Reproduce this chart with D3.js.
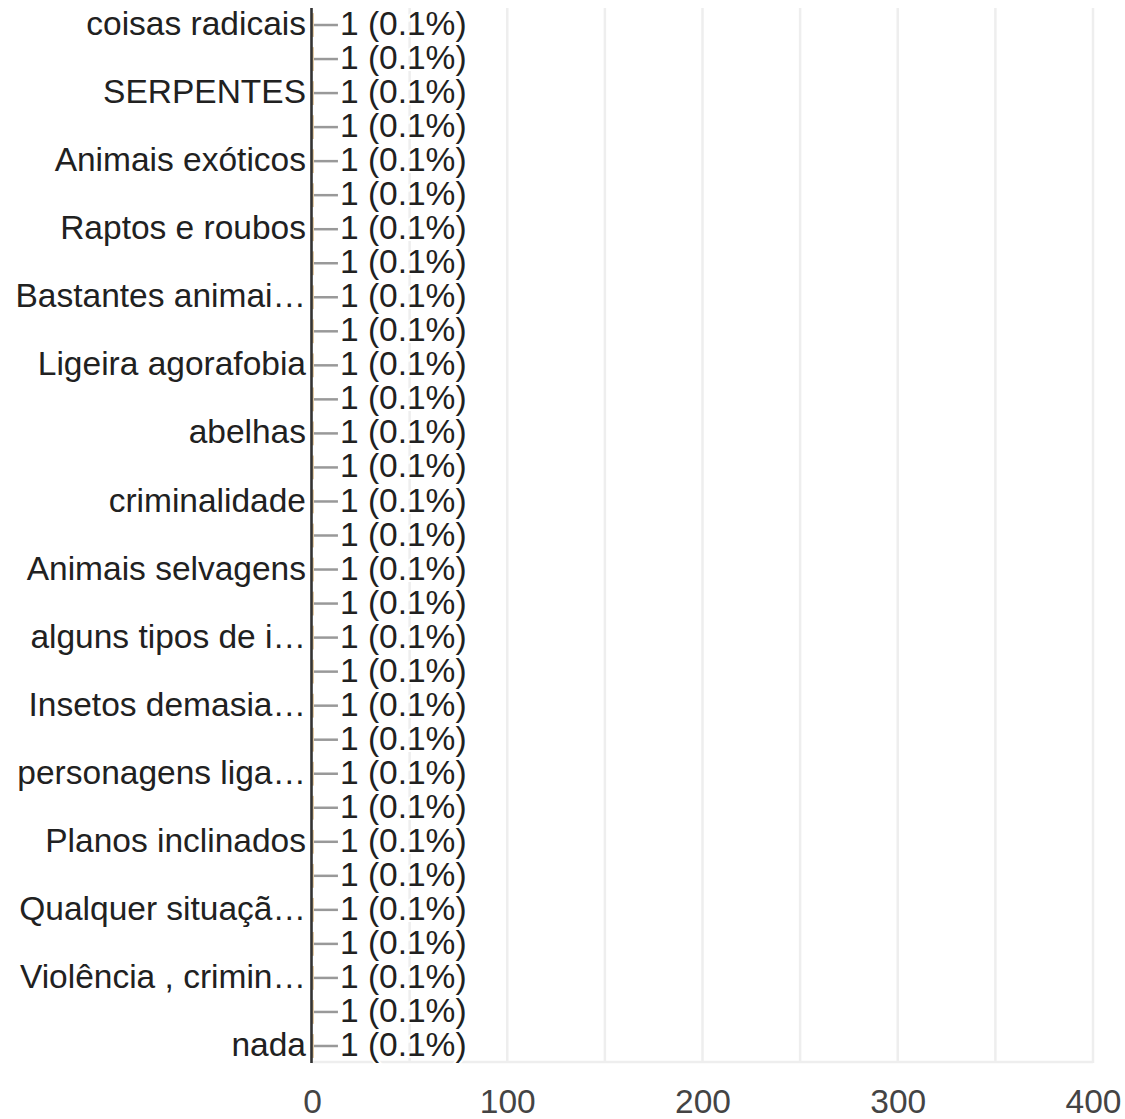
<!DOCTYPE html>
<html>
<head>
<meta charset="utf-8">
<script src="https://cdn.jsdelivr.net/npm/d3@7"></script>
<style>
  html, body { margin: 0; padding: 0; background: #fff; }
  svg { display: block; }
  text { font-family: "Liberation Sans", Arial, sans-serif; }
</style>
</head>
<body>
<svg id="chart" width="1125" height="1119"></svg>
<script>
// ---- data ----
const categories = [
  "coisas radicais", "r2", "SERPENTES", "r4", "Animais exóticos", "r6",
  "Raptos e roubos", "r8", "Bastantes animai…", "r10", "Ligeira agorafobia", "r12",
  "abelhas", "r14", "criminalidade", "r16", "Animais selvagens", "r18",
  "alguns tipos de i…", "r20", "Insetos demasia…", "r22", "personagens liga…", "r24",
  "Planos inclinados", "r26", "Qualquer situaçã…", "r28", "Violência , crimin…", "r30",
  "nada"
];
const shownLabels = [
  "coisas radicais", "SERPENTES", "Animais exóticos", "Raptos e roubos",
  "Bastantes animai…", "Ligeira agorafobia", "abelhas", "criminalidade",
  "Animais selvagens", "alguns tipos de i…", "Insetos demasia…", "personagens liga…",
  "Planos inclinados", "Qualquer situaçã…", "Violência , crimin…", "nada"
];
const counts = [1,1,1,1,1,1,1,1,1,1,1,1,1,1,1,1,1,1,1,1,1,1,1,1,1,1,1,1,1,1,1];
const percents = ["0.1%","0.1%","0.1%","0.1%","0.1%","0.1%","0.1%","0.1%","0.1%","0.1%","0.1%","0.1%","0.1%","0.1%","0.1%","0.1%","0.1%","0.1%","0.1%","0.1%","0.1%","0.1%","0.1%","0.1%","0.1%","0.1%","0.1%","0.1%","0.1%","0.1%","0.1%"];
const xTicks = [0, 100, 200, 300, 400];
const gridValues = [50, 100, 150, 200, 250, 300, 350, 400];

// ---- layout ----
const svg = d3.select("#chart");
const x = d3.scaleLinear().domain([0, 400]).range([312, 1093]);
const y = d3.scaleBand().domain(categories).range([8, 1063]).paddingInner(0.3).paddingOuter(0.15);
const rowCenter = d => y(d) + y.bandwidth() / 2;
const FS = 33.5;

// gridlines
svg.append("g").selectAll("line").data(gridValues).join("line")
  .attr("x1", d => x(d)).attr("x2", d => x(d))
  .attr("y1", 8).attr("y2", 1063)
  .attr("stroke", "#eeeeee").attr("stroke-width", 2.5);
// baseline
svg.append("line")
  .attr("x1", x(0)).attr("x2", x(400))
  .attr("y1", 1062).attr("y2", 1062)
  .attr("stroke", "#eeeeee").attr("stroke-width", 2.5);

// bars
const rows = categories.map((c, i) => ({ c, v: counts[i], p: percents[i] }));
svg.append("g").selectAll("rect").data(rows).join("rect")
  .attr("x", x(0)).attr("y", d => y(d.c))
  .attr("width", d => x(d.v) - x(0)).attr("height", y.bandwidth())
  .attr("fill", "#e2c9a4");

// leader lines
svg.append("g").selectAll("line").data(rows).join("line")
  .attr("x1", d => x(d.v)).attr("x2", d => x(d.v) + 24)
  .attr("y1", d => rowCenter(d.c)).attr("y2", d => rowCenter(d.c))
  .attr("stroke", "#999999").attr("stroke-width", 2.5);

// value labels
svg.append("g").selectAll("text").data(rows).join("text")
  .attr("x", d => x(d.v) + 26).attr("y", d => rowCenter(d.c))
  .attr("dy", "0.3em")
  .attr("font-size", FS).attr("fill", "#212121")
  .attr("stroke", "#ffffff").attr("stroke-width", 4).attr("paint-order", "stroke")
  .text(d => `${d.v} (${d.p})`);

// y axis line
svg.append("line")
  .attr("x1", 311.5).attr("x2", 311.5).attr("y1", 8).attr("y2", 1063)
  .attr("stroke", "#333333").attr("stroke-width", 2.6);

// category labels
svg.append("g").selectAll("text").data(shownLabels).join("text")
  .attr("x", 306).attr("y", d => rowCenter(d))
  .attr("dy", "0.3em").attr("text-anchor", "end")
  .attr("font-size", FS).attr("fill", "#212121")
  .text(d => d);

// x axis tick labels
const xAxis = d3.axisBottom(x).tickValues(xTicks).tickSize(0).tickPadding(0);
const gx = svg.append("g").attr("transform", "translate(0,1089)").call(xAxis);
gx.select(".domain").remove();
gx.selectAll("text")
  .attr("font-size", FS).attr("fill", "#444444")
  .attr("font-family", "'Liberation Sans', Arial, sans-serif")
  .attr("dy", "0.71em");
</script>
</body>
</html>
